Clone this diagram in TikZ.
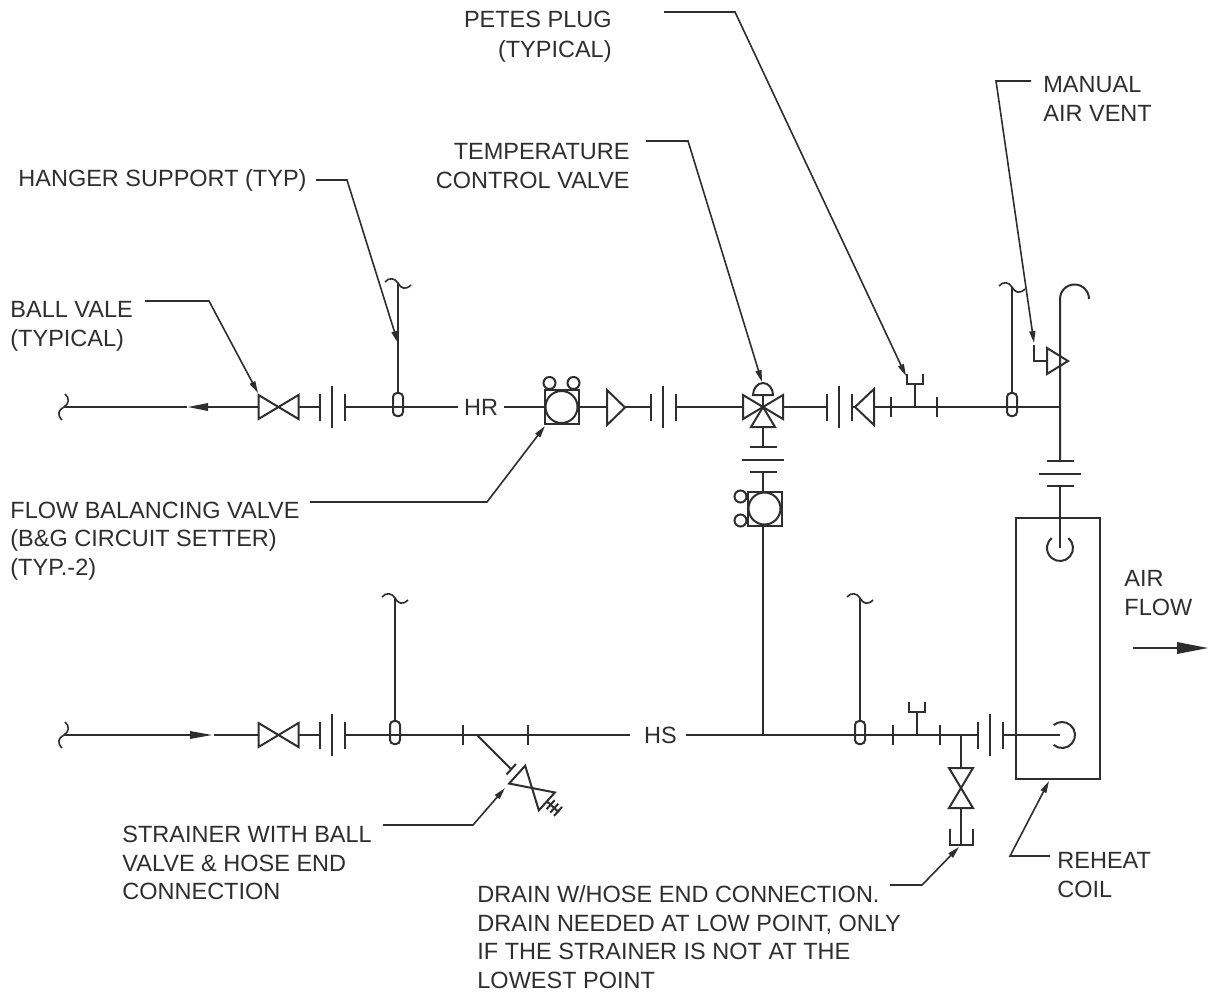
\documentclass[tikz,border=0pt]{standalone}
\usepackage{fontspec}
\setmainfont{Liberation Sans}
\usetikzlibrary{arrows.meta}
\definecolor{ink_grey}{rgb}{0.18, 0.18, 0.18}
\tikzset{
  pipe/.style={draw=ink_grey, line width=1pt},
  leader/.style={draw=ink_grey, line width=0.8pt, -{Triangle[length=6pt, width=3pt]}},
  note/.style={font=\fontsize{11.75}{14.2}\selectfont, text=ink_grey, inner sep=0pt, align=left},
  tag/.style={font=\fontsize{11.75}{14.2}\selectfont, text=ink_grey, inner ysep=0pt, inner xsep=3pt},
  pics/ballvalve/.style={code={\draw[pipe] (-20,-12) -- (20,12) -- (20,-12) -- (-20,12) -- cycle;}},
  pics/flange/.style={code={\draw[pipe] (-12.5,-13.5) -- (-12.5,13.5) (0,-21) -- (0,21) (12.5,-13.5) -- (12.5,13.5);}},
  pics/breakmark/.style={code={\draw[pipe, line width=0.8pt] (-13,-1) .. controls (-9,-6) and (-3,-5) .. (0,0) .. controls (3,6) and (8,7) .. (13,2);}},
  pics/hanger/.style={code={
      \draw[pipe, rounded corners=2pt] (-5,-14) rectangle (5,9);
      \draw[pipe] (0,-14) -- (0,-#1);
      \pic at (0,-#1) {breakmark};
  }},
  pics/setter/.style={code={
      \draw[pipe] (-17,-17) rectangle (17,17);
      \draw[pipe] (0,0) circle (16);
      \draw[pipe] (-12,-24) circle (6);
      \draw[pipe] (12,-24) circle (6);
  }},
  pics/plug/.style={code={\draw[pipe] (0,0) -- (0,-23) (-8,-33) -- (-8,-23) -- (8,-23) -- (8,-33);}},
}

\begin{document}
\begin{tikzpicture}[x=0.5pt, y=-0.5pt]
  \useasboundingbox (0,0) rectangle (1214,992);

  % labels
  \node[note, anchor=east, align=right] (petesNote) at (612,37) {PETES PLUG\\[1pt](TYPICAL)};
  \node[note, anchor=east, align=right] (tempNote) at (630,166) {TEMPERATURE\\CONTROL VALVE};
  \node[note, anchor=west] (ventNote) at (1043,99) {MANUAL\\AIR VENT};
  \node[note, anchor=west] (hangerNote) at (18,180.5) {HANGER SUPPORT (TYP)};
  \node[note, anchor=west] (ballNote) at (10,326.5) {BALL VALE\\(TYPICAL)};
  \node[note, anchor=west] (setterNote) at (10,541) {FLOW BALANCING VALVE\\(B\&G CIRCUIT SETTER)\\(TYP.-2)};
  \node[note, anchor=west] (airNote) at (1124,593) {AIR\\FLOW};
  \node[note, anchor=west] (strainerNote) at (122,863) {STRAINER WITH BALL\\VALVE \& HOSE END\\CONNECTION};
  \node[note, anchor=west] (drainNote) at (477,937) {DRAIN W/HOSE END CONNECTION.\\DRAIN NEEDED AT LOW POINT, ONLY\\IF THE STRAINER IS NOT AT THE\\LOWEST POINT};
  \node[note, anchor=west] (coilNote) at (1057,875) {REHEAT\\COIL};
  \node[tag] (hrTag) at (481,407) {HR};
  \node[tag] (hsTag) at (660.5,735) {HS};

  % return run, left to right
  \pic at (64,407) [rotate=-90] {breakmark};
  \draw[pipe] (64,407) -- (187,407);
  \fill[ink_grey] (188,407) -- (208,403) -- (208,411) -- cycle;
  \draw[pipe] (208,407) -- (259,407);
  \pic at (278.5,407) {ballvalve};
  \draw[pipe] (298,407) -- (319,407);
  \pic at (332,407) {flange};
  \draw[pipe] (344.5,407) -- (hrTag.west);
  \pic at (398,407) {hanger=124};
  \draw[pipe] (hrTag.east) -- (545,407);
  \pic at (561.5,407) {setter};
  \draw[pipe] (578,407) -- (607,407);
  \draw[pipe] (607,390) -- (625,407.5) -- (607,425) -- cycle;
  \draw[pipe] (625,407) -- (651,407);
  \pic at (663,407) {flange};
  \draw[pipe] (675.5,407) -- (743,407);

  % three way valve
  \draw[pipe] (743,395) -- (763,407) -- (743,419) -- cycle;
  \draw[pipe] (783,395) -- (763,407) -- (783,419) -- cycle;
  \draw[pipe] (751,427) -- (763,407) -- (775,427) -- cycle;
  \draw[pipe] (753,395) arc[start angle=180, end angle=360, x radius=10, y radius=12] -- cycle;
  \draw[pipe] (763,395) -- (763,407);
  \draw[pipe] (783,407) -- (826,407);
  \pic at (839,407) {flange};
  \draw[pipe] (851.5,407) -- (855,407);
  \draw[pipe] (874,389) -- (855,407) -- (874,425) -- cycle;
  \draw[pipe] (874,407) -- (1060,407);
  \pic at (915,407) {plug};
  \pic at (1012,407) {hanger=120};

  % riser to coil with vent
  \draw[pipe] (1089,299) arc[start angle=360, end angle=180, radius=14.5] -- (1060,462);
  \draw[pipe] (1047,348) -- (1068,361) -- (1047,374) -- cycle;
  \draw[pipe] (1034,345) -- (1034,361) -- (1047,361);
  \pic at (1060,473.5) [rotate=90] {flange};
  \draw[pipe] (1060,486) -- (1060,548);
  \draw[pipe] (1060,548) ++(-50:13) arc[start angle=-50, end angle=230, radius=13];

  % coil
  \draw[pipe] (1016,518) rectangle (1100,779);
  \draw[pipe] (1062,735) ++(130:13) arc[start angle=130, end angle=-130, radius=13];

  % branch between valve and supply
  \draw[pipe] (763,427) -- (763,447);
  \pic at (763,459.5) [rotate=90] {flange};
  \draw[pipe] (763,472) -- (763,492);
  \pic at (764.5,508.5) [rotate=90] {setter};
  \draw[pipe] (763,525) -- (763,735);

  % supply run, left to right
  \pic at (64,735) [rotate=-90] {breakmark};
  \draw[pipe] (64,735) -- (190,735);
  \fill[ink_grey] (212,735) -- (190,731) -- (190,739) -- cycle;
  \draw[pipe] (214,735) -- (259,735);
  \pic at (278.5,735) {ballvalve};
  \draw[pipe] (298,735) -- (319,735);
  \pic at (332,735) {flange};
  \draw[pipe] (344.5,735) -- ([xshift=-4pt]hsTag.west);
  \pic at (395,735) {hanger=137};
  \draw[pipe] ([xshift=1.5pt]hsTag.east) -- (977,735);
  \pic at (860,735) {hanger=137};
  \pic at (917,735) {plug};
  \pic at (990,735) {flange};
  \draw[pipe] (1002.5,735) -- (1060,735);

  \foreach \tickx/\ticky in {891/407, 937/407, 463/735, 528/735, 893/735, 940/735}
    \draw[pipe] (\tickx,\ticky-10) -- (\tickx,\ticky+10);

  % strainer
  \draw[pipe] (477,735) -- (511,769);
  \pic at (532,788) [rotate=-42] {ballvalve};
  \begin{scope}[shift={(532,788)}, rotate=-42]
    \draw[pipe] (-28,-7) -- (-28,7);
    \draw[pipe] (20,0) -- (36,0);
    \foreach \hosex in {25,30,35}
      \draw[pipe] (\hosex,-6) -- (\hosex,6);
  \end{scope}

  % drain
  \draw[pipe] (961,735) -- (961,769);
  \pic at (961,788) [rotate=90] {ballvalve};
  \draw[pipe] (961,807) -- (961,845);
  \draw[pipe] (950,829) -- (950,845) -- (973,845) -- (973,829);

  % air flow arrow
  \draw[pipe] (1133,648) -- (1178,648);
  \fill[ink_grey] (1208,648) -- (1177,642) -- (1177,654) -- cycle;

  % leaders
  \coordinate (petesFrom) at (664,12);
  \coordinate (petesBend) at (735,12);
  \coordinate (petesTip) at (906,376);
  \draw[leader] (petesFrom) -- (petesBend) -- (petesTip);
  \coordinate (tempFrom) at (646,141);
  \coordinate (tempBend) at (688,141);
  \coordinate (tempTip) at (762,382);
  \draw[leader] (tempFrom) -- (tempBend) -- (tempTip);
  \coordinate (ventFrom) at (1031,81);
  \coordinate (ventBend) at (996,81);
  \coordinate (ventTip) at (1034,343);
  \draw[leader] (ventFrom) -- (ventBend) -- (ventTip);
  \coordinate (hangerFrom) at (316,180);
  \coordinate (hangerBend) at (347,180);
  \coordinate (hangerTip) at (398,343);
  \draw[leader] (hangerFrom) -- (hangerBend) -- (hangerTip);
  \coordinate (ballFrom) at (145,301);
  \coordinate (ballBend) at (209,301);
  \coordinate (ballTip) at (258,393);
  \draw[leader] (ballFrom) -- (ballBend) -- (ballTip);
  \coordinate (setterFrom) at (310,502);
  \coordinate (setterBend) at (487,502);
  \coordinate (setterTip) at (545,426);
  \draw[leader] (setterFrom) -- (setterBend) -- (setterTip);
  \coordinate (strainerFrom) at (383,825);
  \coordinate (strainerBend) at (473,825);
  \coordinate (strainerTip) at (505,788);
  \draw[leader] (strainerFrom) -- (strainerBend) -- (strainerTip);
  \coordinate (drainFrom) at (890,885);
  \coordinate (drainBend) at (922,885);
  \coordinate (drainTip) at (959,847);
  \draw[leader] (drainFrom) -- (drainBend) -- (drainTip);
  \coordinate (coilFrom) at (1050,856);
  \coordinate (coilBend) at (1010,856);
  \coordinate (coilTip) at (1049,781);
  \draw[leader] (coilFrom) -- (coilBend) -- (coilTip);
\end{tikzpicture}
\end{document}
